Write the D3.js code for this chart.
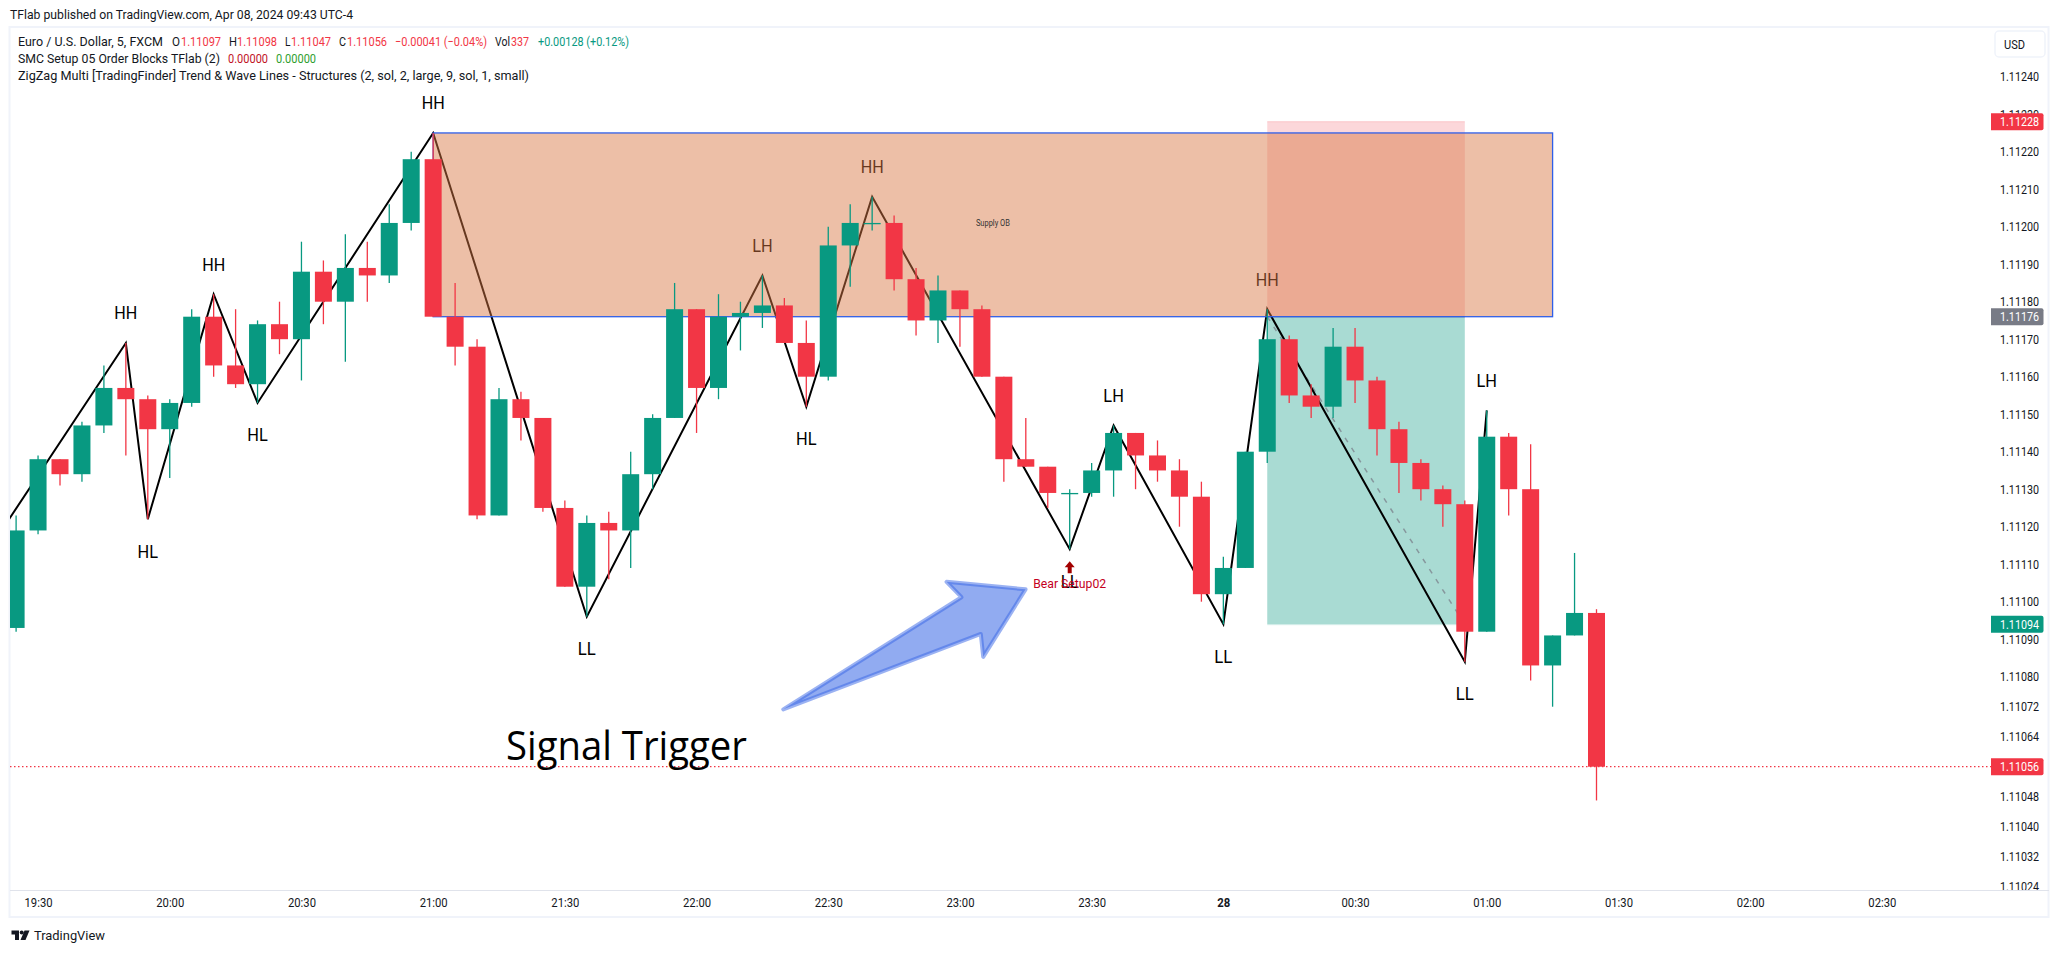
<!DOCTYPE html>
<html>
<head>
<meta charset="utf-8">
<title>EUR/USD 5m</title>
<script src="https://d3js.org/d3.v7.min.js"></script>
<style>
  html, body { margin: 0; padding: 0; background: #fff; overflow: hidden; }
  svg { display: block; }
  text { font-family: Roboto, sans-serif; fill: #131722; }
</style>
</head>
<body>
<script>
// candles, index 0 is the leftmost bar on screen
var barOpen = [1.11093, 1.11119, 1.11138, 1.11134, 1.11147, 1.11157, 1.11154, 1.11146, 1.11153, 1.11176, 1.11163, 1.11158, 1.11174,
  1.11170, 1.11188, 1.11180, 1.11189, 1.11187, 1.11201, 1.11218, 1.11176, 1.11168, 1.11123, 1.11154, 1.11149, 1.11125,
  1.11104, 1.11121, 1.11119, 1.11134, 1.11149, 1.11178, 1.11157, 1.11176, 1.11177, 1.11179, 1.11169, 1.11160, 1.11195,
  1.11201, 1.11201, 1.11186, 1.11175, 1.11183, 1.11178, 1.11160, 1.11138, 1.11136, 1.11129, 1.11129, 1.11135, 1.11145,
  1.11139, 1.11135, 1.11128, 1.11102, 1.11109, 1.11140, 1.11170, 1.11155, 1.11152, 1.11168, 1.11159, 1.11146, 1.11137,
  1.11130, 1.11126, 1.11092, 1.11144, 1.11130, 1.11083, 1.11091, 1.11097];
var barHigh = [1.11123, 1.11139, 1.11138, 1.11148, 1.11163, 1.11169, 1.11155, 1.11154, 1.11178, 1.11182, 1.11178, 1.11175, 1.11180,
  1.11196, 1.11191, 1.11198, 1.11196, 1.11206, 1.11220, 1.11225, 1.11185, 1.11170, 1.11157, 1.11156, 1.11149, 1.11127,
  1.11123, 1.11124, 1.11140, 1.11150, 1.11185, 1.11178, 1.11182, 1.11180, 1.11187, 1.11181, 1.11175, 1.11200, 1.11206,
  1.11208, 1.11203, 1.11189, 1.11187, 1.11183, 1.11179, 1.11160, 1.11149, 1.11136, 1.11130, 1.11137, 1.11147, 1.11145,
  1.11143, 1.11138, 1.11132, 1.11112, 1.11140, 1.11178, 1.11171, 1.11158, 1.11173, 1.11173, 1.11160, 1.11148, 1.11138,
  1.11131, 1.11127, 1.11151, 1.11145, 1.11142, 1.11091, 1.11113, 1.11098];
var barLow = [1.11092, 1.11118, 1.11131, 1.11132, 1.11145, 1.11139, 1.11122, 1.11133, 1.11152, 1.11160, 1.11157, 1.11153, 1.11166,
  1.11159, 1.11174, 1.11164, 1.11180, 1.11185, 1.11199, 1.11176, 1.11163, 1.11122, 1.11123, 1.11143, 1.11124, 1.11104,
  1.11096, 1.11106, 1.11109, 1.11130, 1.11149, 1.11145, 1.11154, 1.11167, 1.11173, 1.11169, 1.11152, 1.11159, 1.11184,
  1.11199, 1.11183, 1.11171, 1.11169, 1.11168, 1.11160, 1.11132, 1.11136, 1.11125, 1.11114, 1.11128, 1.11128, 1.11130,
  1.11132, 1.11120, 1.11100, 1.11094, 1.11109, 1.11137, 1.11153, 1.11149, 1.11149, 1.11153, 1.11139, 1.11129, 1.11127,
  1.11120, 1.11084, 1.11092, 1.11123, 1.11079, 1.11072, 1.11091, 1.11047];
var barClose = [1.11119, 1.11138, 1.11134, 1.11147, 1.11157, 1.11154, 1.11146, 1.11153, 1.11176, 1.11163, 1.11158, 1.11174, 1.11170,
  1.11188, 1.11180, 1.11189, 1.11187, 1.11201, 1.11218, 1.11176, 1.11168, 1.11123, 1.11154, 1.11149, 1.11125, 1.11104,
  1.11121, 1.11119, 1.11134, 1.11149, 1.11178, 1.11157, 1.11176, 1.11177, 1.11179, 1.11169, 1.11160, 1.11195, 1.11201,
  1.11201, 1.11186, 1.11175, 1.11183, 1.11178, 1.11160, 1.11138, 1.11136, 1.11129, 1.11129, 1.11135, 1.11145, 1.11139,
  1.11135, 1.11128, 1.11102, 1.11109, 1.11140, 1.11170, 1.11155, 1.11152, 1.11168, 1.11159, 1.11146, 1.11137, 1.11130,
  1.11126, 1.11092, 1.11144, 1.11130, 1.11083, 1.11091, 1.11097, 1.11056];

// zigzag pivots
var pivotIndex = [-1, 5, 6, 9, 11, 19, 26, 34, 36, 39, 48, 50, 55, 57, 66, 67];
var pivotPrice = [1.11116, 1.11169, 1.11122, 1.11182, 1.11153, 1.11225, 1.11096, 1.11187, 1.11152, 1.11208, 1.11114, 1.11147, 1.11094, 1.11178, 1.11084, 1.11151];
var pivotLabel = [null, "HH", "HL", "HH", "HL", "HH", "LL", "LH", "HL", "HH", "LL", "LH", "LL", "HH", "LL", "LH"];
var labelWidth = { HH: 23, HL: 20.5, LH: 20.5, LL: 18 };

// axes
var priceTicks = [1.11240, 1.11230, 1.11220, 1.11210, 1.11200, 1.11190, 1.11180, 1.11170, 1.11160, 1.11150, 1.11140, 1.11130,
  1.11120, 1.11110, 1.11100, 1.11090, 1.11080, 1.11072, 1.11064, 1.11056, 1.11048, 1.11040, 1.11032, 1.11024];
var timeIndex = [1, 7, 13, 19, 25, 31, 37, 43, 49, 55, 61, 67, 73, 79, 85];
var timeLabels = ["19:30", "20:00", "20:30", "21:00", "21:30", "22:00", "22:30", "23:00", "23:30", "28", "00:30", "01:00", "01:30", "02:00", "02:30"];

// price tags on the axis
var tagPrices = [1.11228, 1.11176, 1.11094, 1.11056];
var tagColors = ["#f23645", "#787b86", "#089981", "#f23645"];

// drawings
var supplyZone = { from: 19, to: 70, top: 1.11225, bottom: 1.11176 };
var position = { from: 57, to: 66, stop: 1.11228, entry: 1.11176, target: 1.11094 };
var arrowIndex = [34.95, 43.07, 42.39, 45.99, 44.06, 43.95];
var arrowPrice = [1.110713, 1.111012, 1.111053, 1.111033, 1.110853, 1.110914];

var width = 2059;
var height = 953;
var up = "#089981";
var down = "#f23645";

var x = d3.scaleLinear().domain( [0, 72] ).range( [16.1, 16.1 + 72 * 21.95] );
var y = d3.scaleLinear().domain( [1.11024, 1.11240] ).range( [886.7, 76.7] );
var bodyWidth = 17;

var svg = d3.select( "body" ).append( "svg" )
  .attr( "width", width )
  .attr( "height", height );

svg.append( "clipPath" ).attr( "id", "pane" ).append( "rect" )
  .attr( "x", 10 ).attr( "y", 28 ).attr( "width", 1981 ).attr( "height", 862 );
svg.append( "clipPath" ).attr( "id", "axisPane" ).append( "rect" )
  .attr( "x", 1991 ).attr( "y", 28 ).attr( "width", 58 ).attr( "height", 862 );

// frame
svg.append( "rect" )
  .attr( "x", 9.5 ).attr( "y", 27 ).attr( "width", 2039 ).attr( "height", 890 )
  .attr( "fill", "none" ).attr( "stroke", "#f0f3fa" ).attr( "stroke-width", 2 );
svg.append( "line" )
  .attr( "x1", 10 ).attr( "x2", 2049 ).attr( "y1", 890.5 ).attr( "y2", 890.5 )
  .attr( "stroke", "#e0e3eb" );

var pane = svg.append( "g" ).attr( "clip-path", "url(#pane)" );

// last price line
pane.append( "line" )
  .attr( "x1", 10 ).attr( "x2", 1991 )
  .attr( "y1", y( 1.11056 ) ).attr( "y2", y( 1.11056 ) )
  .attr( "stroke", down ).attr( "stroke-width", 1.2 ).attr( "stroke-dasharray", "1.5 2.5" );

// risk / reward boxes
pane.append( "rect" )
  .attr( "x", x( position.from ) ).attr( "width", x( position.to ) - x( position.from ) )
  .attr( "y", y( position.stop ) ).attr( "height", y( position.entry ) - y( position.stop ) )
  .attr( "fill", down ).attr( "fill-opacity", 0.2 );
pane.append( "line" )
  .attr( "x1", x( position.from ) ).attr( "x2", x( position.to ) )
  .attr( "y1", y( position.stop ) ).attr( "y2", y( position.stop ) )
  .attr( "stroke", down ).attr( "stroke-opacity", 0.2 );
pane.append( "rect" )
  .attr( "x", x( position.from ) ).attr( "width", x( position.to ) - x( position.from ) )
  .attr( "y", y( position.entry ) ).attr( "height", y( position.target ) - y( position.entry ) )
  .attr( "fill", up ).attr( "fill-opacity", 0.35 );
pane.append( "line" )
  .attr( "x1", x( position.from ) ).attr( "x2", x( position.to ) )
  .attr( "y1", y( position.target ) + 0.5 ).attr( "y2", y( position.target ) + 0.5 )
  .attr( "stroke", up ).attr( "stroke-opacity", 0.15 );
pane.append( "line" )
  .attr( "x1", x( position.from ) ).attr( "x2", x( position.to ) )
  .attr( "y1", y( position.entry ) ).attr( "y2", y( position.entry ) )
  .attr( "stroke", "#787b86" ).attr( "stroke-width", 1.2 );
pane.append( "line" )
  .attr( "x1", x( position.from ) ).attr( "x2", x( position.to ) )
  .attr( "y1", y( position.entry ) ).attr( "y2", y( position.target ) )
  .attr( "stroke", "#787b86" ).attr( "stroke-opacity", 0.7 )
  .attr( "stroke-width", 1.5 ).attr( "stroke-dasharray", "5 7" );

// zigzag and its labels
var zigzag = d3.line()
  .x( function ( d ) { return x( d ); } )
  .y( function ( d, i ) { return y( pivotPrice[i] ); } );
pane.append( "path" )
  .attr( "d", zigzag( pivotIndex ) )
  .attr( "fill", "none" ).attr( "stroke", "#000" ).attr( "stroke-width", 2 )
  .attr( "stroke-linejoin", "miter" );

pane.selectAll( ".pivot" )
  .data( pivotIndex.slice( 1 ) )
  .enter().append( "text" )
  .attr( "class", "pivot" )
  .attr( "x", function ( d ) { return x( d ); } )
  .attr( "y", function ( d, i ) {
    var high = pivotLabel[i + 1].charAt( 1 ) === "H";
    return y( pivotPrice[i + 1] ) + ( high ? -30 : 32 );
  } )
  .attr( "dy", "0.36em" )
  .attr( "text-anchor", "middle" )
  .attr( "textLength", function ( d, i ) { return labelWidth[pivotLabel[i + 1]]; } )
  .attr( "lengthAdjust", "spacingAndGlyphs" )
  .style( "font-size", "18px" )
  .style( "fill", "#000" )
  .text( function ( d, i ) { return pivotLabel[i + 1]; } );

// supply order block goes over the zigzag, the candles over the block
pane.append( "rect" )
  .attr( "x", x( supplyZone.from ) ).attr( "width", x( supplyZone.to ) - x( supplyZone.from ) )
  .attr( "y", y( supplyZone.top ) ).attr( "height", y( supplyZone.bottom ) - y( supplyZone.top ) )
  .attr( "fill", "rgb(216,120,68)" ).attr( "fill-opacity", 0.47 )
  .attr( "stroke", "#2f5fe8" ).attr( "stroke-width", 1.3 );
pane.append( "text" )
  .attr( "x", x( 44.5 ) ).attr( "y", y( 1.11201 ) )
  .attr( "dy", "0.36em" ).attr( "text-anchor", "middle" )
  .attr( "textLength", 34 ).attr( "lengthAdjust", "spacingAndGlyphs" )
  .style( "font-size", "8.5px" ).style( "fill", "#333" )
  .text( "Supply OB" );

// candles
var bars = d3.range( barOpen.length );
pane.selectAll( ".wick" )
  .data( bars )
  .enter().append( "line" )
  .attr( "class", "wick" )
  .attr( "x1", function ( d ) { return x( d ); } )
  .attr( "x2", function ( d ) { return x( d ); } )
  .attr( "y1", function ( d ) { return y( barHigh[d] ); } )
  .attr( "y2", function ( d ) { return y( barLow[d] ); } )
  .attr( "stroke", function ( d ) { return barClose[d] >= barOpen[d] ? up : down; } )
  .attr( "stroke-width", 1.3 );
pane.selectAll( ".body" )
  .data( bars )
  .enter().append( "rect" )
  .attr( "class", "body" )
  .attr( "x", function ( d ) { return x( d ) - bodyWidth / 2; } )
  .attr( "width", bodyWidth )
  .attr( "y", function ( d ) { return y( Math.max( barOpen[d], barClose[d] ) ); } )
  .attr( "height", function ( d ) { return Math.max( 1.3, Math.abs( y( barOpen[d] ) - y( barClose[d] ) ) ); } )
  .attr( "fill", function ( d ) { return barClose[d] >= barOpen[d] ? up : down; } );

// signal marker under bar 48
pane.append( "path" )
  .attr( "d", "M0,-6 L5,0 L2,0 L2,6 L-2,6 L-2,0 L-5,0 Z" )
  .attr( "transform", "translate(" + x( 48 ) + "," + ( y( 1.11114 ) + 18 ) + ")" )
  .attr( "fill", "#a30000" );
pane.append( "text" )
  .attr( "x", x( 48 ) ).attr( "y", y( 1.11114 ) + 34.5 )
  .attr( "dy", "0.36em" ).attr( "text-anchor", "middle" )
  .attr( "textLength", 73 ).attr( "lengthAdjust", "spacingAndGlyphs" )
  .style( "font-size", "12.5px" ).style( "fill", "#c4001d" )
  .text( "Bear Setup02" );

// hand drawn arrow
var arrow = d3.line()
  .x( function ( d ) { return x( d ); } )
  .y( function ( d, i ) { return y( arrowPrice[i] ); } );
pane.append( "path" )
  .attr( "d", arrow( arrowIndex ) + "Z" )
  .attr( "fill", "#3766e5" ).attr( "fill-opacity", 0.55 )
  .attr( "stroke", "#3766e5" ).attr( "stroke-opacity", 0.5 )
  .attr( "stroke-width", 4 ).attr( "stroke-linejoin", "round" );

pane.append( "text" )
  .attr( "x", 506 ).attr( "y", 760 )
  .attr( "textLength", 241 ).attr( "lengthAdjust", "spacingAndGlyphs" )
  .style( "font-family", "'Open Sans', sans-serif" )
  .style( "font-size", "40px" ).style( "fill", "#000" )
  .text( "Signal Trigger" );

// price axis
var priceAxis = svg.append( "g" )
  .attr( "clip-path", "url(#axisPane)" )
  .append( "g" )
  .attr( "transform", "translate(2000,0)" )
  .call( d3.axisRight( y ).tickValues( priceTicks ).tickFormat( d3.format( ".5f" ) ).tickSize( 0 ).tickPadding( 0 ) );
priceAxis.select( ".domain" ).remove();
priceAxis.selectAll( "text" )
  .attr( "textLength", 39 ).attr( "lengthAdjust", "spacingAndGlyphs" )
  .style( "font-size", "13px" ).style( "font-family", "Roboto, sans-serif" ).style( "fill", "#131722" );

// time axis
var timeAxis = svg.append( "g" )
  .attr( "transform", "translate(0,898)" )
  .call( d3.axisBottom( x ).tickValues( timeIndex )
    .tickFormat( function ( d, i ) { return timeLabels[i]; } ).tickSize( 0 ).tickPadding( 0 ) );
timeAxis.select( ".domain" ).remove();
timeAxis.selectAll( "text" )
  .attr( "textLength", function ( d, i ) { return timeLabels[i] === "28" ? 13 : 28; } )
  .attr( "lengthAdjust", "spacingAndGlyphs" )
  .style( "font-size", "13px" ).style( "font-family", "Roboto, sans-serif" ).style( "fill", "#131722" )
  .style( "font-weight", function ( d, i ) { return timeLabels[i] === "28" ? "700" : "400"; } );

// tags
var tags = svg.selectAll( ".tag" )
  .data( tagPrices )
  .enter().append( "g" )
  .attr( "class", "tag" )
  .attr( "transform", function ( d ) { return "translate(1991," + y( d ) + ")"; } );
tags.append( "path" )
  .attr( "d", "M0,-8.5 H50.5 Q52.5,-8.5 52.5,-6.5 V6.5 Q52.5,8.5 50.5,8.5 H0 Z" )
  .attr( "fill", function ( d, i ) { return tagColors[i]; } );
tags.append( "text" )
  .attr( "x", 9 ).attr( "dy", "0.36em" )
  .attr( "textLength", 39 ).attr( "lengthAdjust", "spacingAndGlyphs" )
  .style( "font-size", "13px" ).style( "fill", "#fff" )
  .text( d3.format( ".5f" ) );

// USD box
svg.append( "rect" )
  .attr( "x", 1995 ).attr( "y", 31 ).attr( "width", 50 ).attr( "height", 26 ).attr( "rx", 4 )
  .attr( "fill", "#fff" ).attr( "stroke", "#f0f3fa" ).attr( "stroke-width", 1.5 );
svg.append( "text" )
  .attr( "x", 2004 ).attr( "y", 44 ).attr( "dy", "0.36em" )
  .attr( "textLength", 21 ).attr( "lengthAdjust", "spacingAndGlyphs" )
  .style( "font-size", "12.5px" )
  .text( "USD" );

// header and legend: text, x, y, colour, width
var legendPieces = [
  ["TFlab published on TradingView.com, Apr 08, 2024 09:43 UTC-4", 10, 14, "#131722", 343],
  ["Euro / U.S. Dollar, 5, FXCM", 18, 41, "#131722", 145],
  ["O", 172, 41, "#131722", 8], ["1.11097", 181, 41, down, 40],
  ["H", 229, 41, "#131722", 8], ["1.11098", 237, 41, down, 40],
  ["L", 285, 41, "#131722", 5.5], ["1.11047", 291, 41, down, 40],
  ["C", 339, 41, "#131722", 7], ["1.11056", 347, 41, down, 40],
  ["\u22120.00041 (\u22120.04%)", 395, 41, down, 92],
  ["Vol", 495, 41, "#131722", 15], ["337", 511, 41, down, 18],
  ["+0.00128 (+0.12%)", 538, 41, up, 91],
  ["SMC Setup 05 Order Blocks TFlab (2)", 18, 58, "#131722", 202],
  ["0.00000", 228, 58, "#c1121f", 40], ["0.00000", 276, 58, "#2e9e2e", 40],
  ["ZigZag Multi [TradingFinder] Trend & Wave Lines - Structures (2, sol, 2, large, 9, sol, 1, small)", 18, 75, "#131722", 511]
];
svg.selectAll( ".legend" )
  .data( legendPieces )
  .enter().append( "text" )
  .attr( "class", "legend" )
  .attr( "x", function ( d ) { return d[1]; } )
  .attr( "y", function ( d ) { return d[2]; } )
  .attr( "dy", "0.36em" )
  .attr( "textLength", function ( d ) { return d[4]; } )
  .attr( "lengthAdjust", "spacingAndGlyphs" )
  .style( "font-size", "13px" )
  .style( "fill", function ( d ) { return d[3]; } )
  .text( function ( d ) { return d[0]; } );

// footer logo
var logo = svg.append( "g" ).attr( "transform", "translate(11.5,930.5)" ).attr( "fill", "#131722" );
logo.append( "path" ).attr( "d", "M0,0 H7.5 V9.5 H3.5 V4 H0 Z" );
logo.append( "circle" ).attr( "cx", 10.2 ).attr( "cy", 2 ).attr( "r", 2 );
logo.append( "path" ).attr( "d", "M13,0 H18 L14,9.5 H9 Z" );
svg.append( "text" )
  .attr( "x", 34 ).attr( "y", 935.5 ).attr( "dy", "0.36em" )
  .attr( "textLength", 71 ).attr( "lengthAdjust", "spacingAndGlyphs" )
  .style( "font-size", "13.5px" )
  .text( "TradingView" );
</script>
</body>
</html>
